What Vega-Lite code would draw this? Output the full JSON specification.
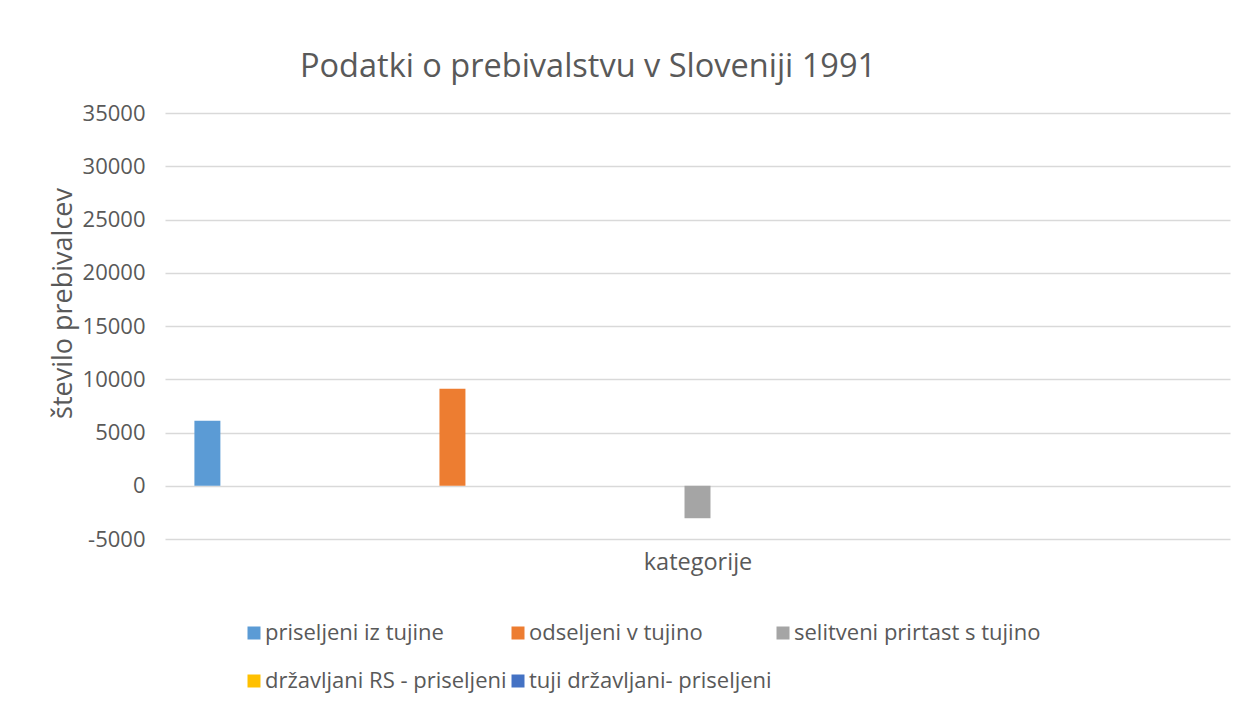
{
  "$schema": "https://vega.github.io/schema/vega-lite/v6.json",
  "width": 1065,
  "height": 426,
  "autosize": {"type": "none"},
  "padding": {"left": 165, "top": 113, "right": 18, "bottom": 163},
  "background": "white",
  "config": {
    "font": "Open Sans",
    "view": {"stroke": null},
    "axis": {"labelColor": "#595959", "titleColor": "#595959", "labelFont": "Open Sans", "titleFont": "Open Sans"},
    "legend": {"labelColor": "#595959", "labelFont": "Open Sans"}
  },
  "title": {
    "text": "Podatki o prebivalstvu v Sloveniji 1991",
    "font": "Open Sans",
    "fontSize": 32.5,
    "fontWeight": "normal",
    "color": "#595959",
    "anchor": "start",
    "frame": "group",
    "dx": 135,
    "offset": 19
  },
  "data": {
    "values": [
      {"kategorija": "", "serija": "priseljeni iz tujine", "vrednost": 6100},
      {"kategorija": "", "serija": "odseljeni v tujino", "vrednost": 9100},
      {"kategorija": "", "serija": "selitveni prirtast s tujino", "vrednost": -3050},
      {"kategorija": "", "serija": "državljani RS - priseljeni", "vrednost": null},
      {"kategorija": "", "serija": "tuji državljani- priseljeni", "vrednost": null}
    ]
  },
  "mark": {"type": "bar"},
  "encoding": {
    "x": {
      "field": "kategorija",
      "type": "nominal",
      "scale": {"paddingInner": 0, "paddingOuter": 0},
      "axis": {
        "title": "kategorije",
        "titleFontSize": 23.5,
        "titleFontWeight": "normal",
        "titlePadding": 11,
        "labels": false,
        "ticks": false,
        "domain": false
      }
    },
    "xOffset": {
      "field": "serija",
      "type": "nominal",
      "scale": {
        "domain": ["priseljeni iz tujine", "odseljeni v tujino", "selitveni prirtast s tujino", "državljani RS - priseljeni", "tuji državljani- priseljeni"],
        "paddingInner": 0.894,
        "paddingOuter": 0.12
      }
    },
    "y": {
      "field": "vrednost",
      "type": "quantitative",
      "scale": {"domain": [-5000, 35000], "nice": false, "zero": false},
      "axis": {
        "values": [-5000, 0, 5000, 10000, 15000, 20000, 25000, 30000, 35000],
        "labelExpr": "'' + datum.value",
        "labelFontSize": 22,
        "labelPadding": 20,
        "ticks": false,
        "domain": false,
        "gridColor": "#d9d9d9",
        "gridWidth": 1.5,
        "title": "število prebivalcev",
        "titleFontSize": 27,
        "titleFontWeight": "normal",
        "titleAngle": -90,
        "titleX": -102,
        "titleY": 190,
        "titleAlign": "center",
        "titleBaseline": "middle"
      }
    },
    "color": {
      "field": "serija",
      "type": "nominal",
      "scale": {
        "domain": ["priseljeni iz tujine", "odseljeni v tujino", "selitveni prirtast s tujino", "državljani RS - priseljeni", "tuji državljani- priseljeni"],
        "range": ["#5B9BD5", "#ED7D31", "#A5A5A5", "#FFC000", "#4472C4"]
      },
      "legend": {
        "title": null,
        "orient": "none",
        "legendX": 78,
        "legendY": 509,
        "direction": "horizontal",
        "columns": 3,
        "gridAlign": "each",
        "columnPadding": 0,
        "rowPadding": 26,
        "padding": 0,
        "symbolType": "square",
        "symbolSize": 169,
        "symbolStrokeWidth": 0,
        "labelFontSize": 22,
        "labelOffset": 0,
        "labelLimit": 400
      }
    }
  }
}
